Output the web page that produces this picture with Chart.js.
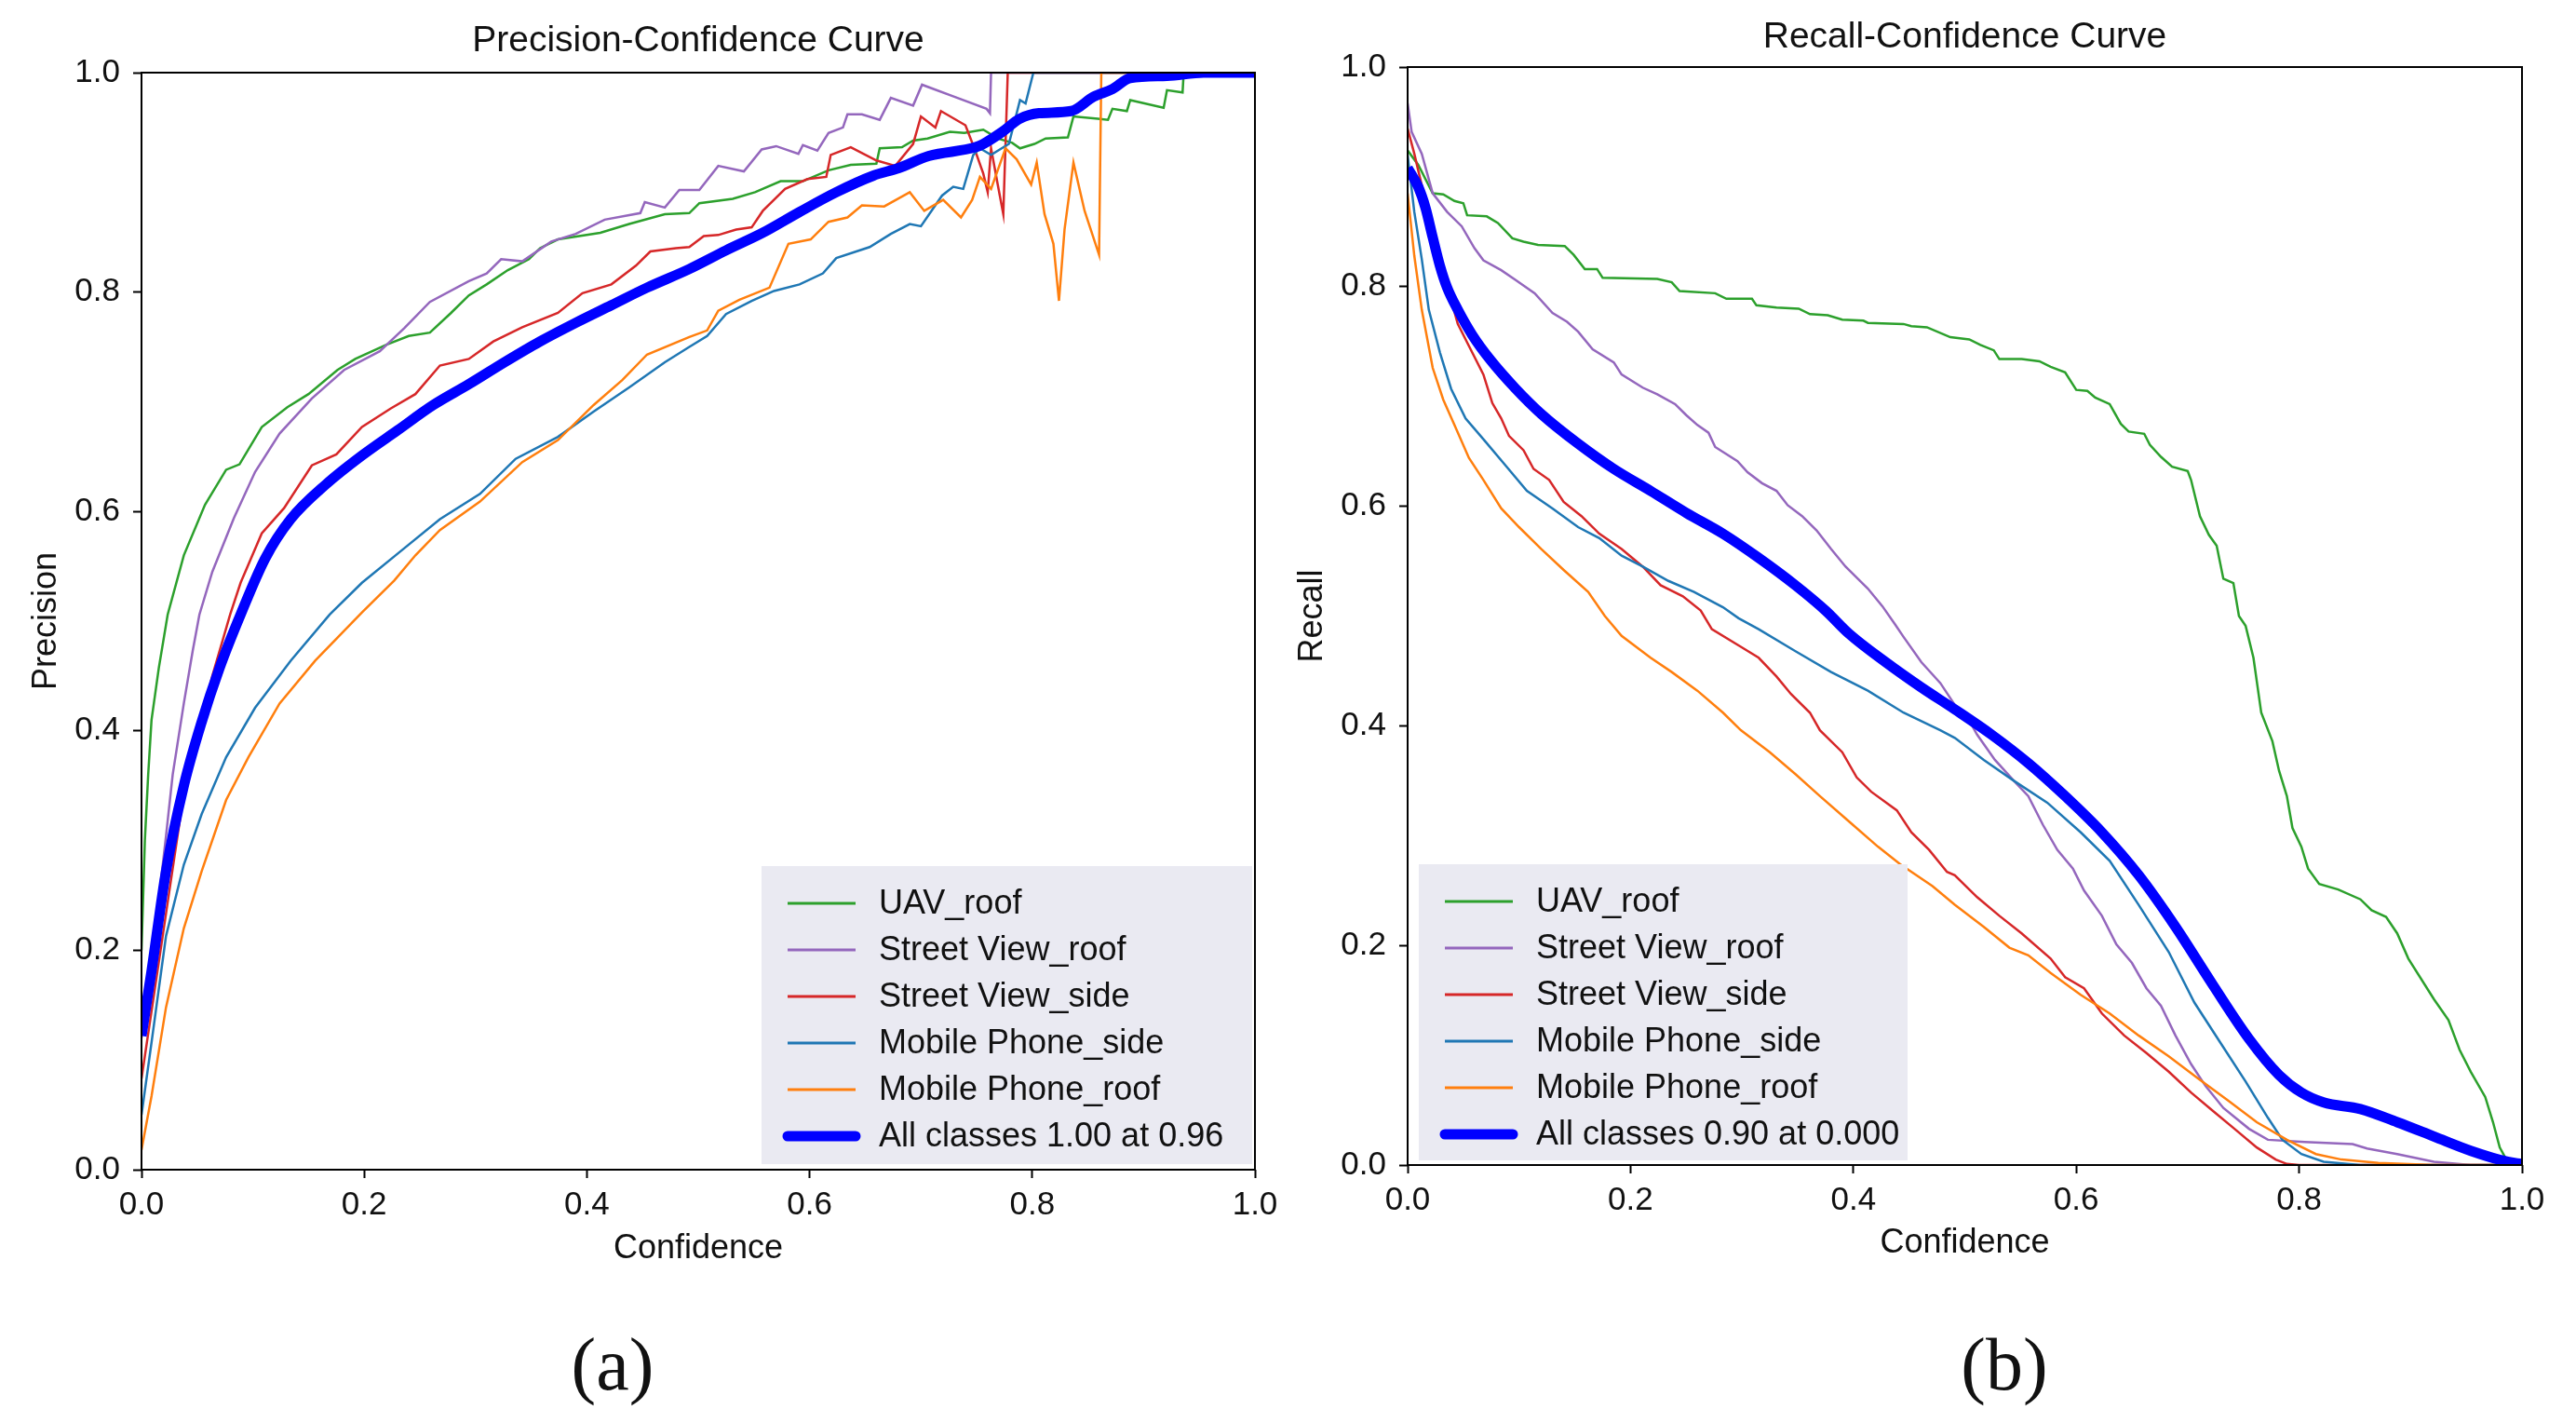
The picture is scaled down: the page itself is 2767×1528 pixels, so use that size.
<!DOCTYPE html>
<html>
<head>
<meta charset="utf-8">
<script src="https://cdn.jsdelivr.net/npm/chart.js@4.4.1/dist/chart.umd.min.js"></script>
<style>
  body { margin: 0; background: #fff; }
  #page { position: relative; width: 2767px; height: 1528px; overflow: hidden; }
  .box { position: absolute; top: 0; height: 1400px; }
  .cap { position: absolute; top: 1465px; transform: translate(-50%, -50%);
         font-family: "Liberation Serif", "Times New Roman", serif; font-size: 80px; line-height: 1; color: #111; }
</style>
</head>
<body>
<div id="page">
  <div class="box" style="left:0;width:1383px"><canvas id="pcChart"></canvas></div>
  <div class="box" style="left:1383px;width:1384px"><canvas id="rcChart"></canvas></div>
  <div class="cap" style="left:658px">(a)</div>
  <div class="cap" style="left:2153px">(b)</div>
</div>
<script>
/* labels */
const classNames = ['UAV_roof', 'Street View_roof', 'Street View_side', 'Mobile Phone_side', 'Mobile Phone_roof'];
const pcAllLabel = 'All classes 1.00 at 0.96';
const rcAllLabel = 'All classes 0.90 at 0.000';
const tickLabels = ['0.0', '0.2', '0.4', '0.6', '0.8', '1.0'];

/* Precision-Confidence, [confidence, precision] */
const pcUavRoof = [[0,0.20],[0.003,0.30],[0.006,0.36],[0.009,0.41],[0.0155,0.457],[0.0235,0.506],[0.038,0.56],[0.057,0.606],[0.076,0.638],[0.088,0.643],[0.108,0.677],[0.131,0.695],[0.150,0.707],[0.176,0.729],[0.192,0.739],[0.220,0.752],[0.240,0.760],[0.259,0.763],[0.278,0.781],[0.294,0.797],[0.310,0.807],[0.329,0.820],[0.348,0.830],[0.358,0.840],[0.374,0.848],[0.412,0.854],[0.438,0.862],[0.470,0.871],[0.492,0.872],[0.501,0.881],[0.531,0.885],[0.551,0.891],[0.574,0.901],[0.594,0.901],[0.617,0.911],[0.637,0.916],[0.660,0.917],[0.663,0.931],[0.683,0.932],[0.693,0.938],[0.706,0.940],[0.726,0.946],[0.739,0.945],[0.756,0.948],[0.769,0.940],[0.782,0.936],[0.789,0.931],[0.802,0.935],[0.812,0.940],[0.832,0.941],[0.837,0.960],[0.859,0.958],[0.868,0.957],[0.872,0.967],[0.885,0.965],[0.888,0.975],[0.918,0.968],[0.921,0.984],[0.935,0.982],[0.936,1.0],[1.0,1.0]];
const pcSvRoof = [[0,0.12],[0.009,0.181],[0.0155,0.246],[0.022,0.304],[0.028,0.36],[0.038,0.425],[0.046,0.473],[0.052,0.506],[0.0636,0.545],[0.083,0.594],[0.102,0.636],[0.124,0.671],[0.153,0.703],[0.182,0.729],[0.214,0.746],[0.236,0.767],[0.259,0.791],[0.294,0.810],[0.310,0.817],[0.323,0.830],[0.342,0.828],[0.368,0.846],[0.390,0.853],[0.416,0.866],[0.448,0.872],[0.452,0.882],[0.470,0.877],[0.483,0.893],[0.501,0.893],[0.518,0.915],[0.541,0.910],[0.557,0.930],[0.570,0.933],[0.590,0.926],[0.594,0.934],[0.607,0.929],[0.617,0.945],[0.630,0.950],[0.634,0.962],[0.647,0.962],[0.663,0.957],[0.673,0.977],[0.693,0.970],[0.701,0.989],[0.730,0.978],[0.759,0.967],[0.762,0.963],[0.763,1.0],[1.0,1.0]];
const pcSvSide = [[0,0.083],[0.019,0.213],[0.038,0.343],[0.0636,0.45],[0.0796,0.506],[0.089,0.535],[0.108,0.58],[0.128,0.603],[0.153,0.642],[0.175,0.652],[0.198,0.677],[0.224,0.694],[0.246,0.707],[0.268,0.733],[0.294,0.739],[0.316,0.755],[0.342,0.768],[0.374,0.781],[0.396,0.799],[0.422,0.807],[0.444,0.824],[0.457,0.837],[0.480,0.840],[0.492,0.841],[0.505,0.851],[0.518,0.852],[0.534,0.857],[0.548,0.859],[0.558,0.874],[0.578,0.894],[0.598,0.903],[0.615,0.905],[0.619,0.925],[0.637,0.932],[0.660,0.920],[0.677,0.915],[0.693,0.935],[0.700,0.960],[0.713,0.950],[0.718,0.965],[0.740,0.952],[0.748,0.931],[0.756,0.908],[0.760,0.891],[0.763,0.931],[0.769,0.898],[0.774,0.871],[0.778,1.0],[1.0,1.0]];
const pcMpSide = [[0,0.05],[0.009,0.116],[0.022,0.213],[0.038,0.278],[0.054,0.324],[0.076,0.376],[0.102,0.421],[0.134,0.464],[0.169,0.506],[0.198,0.535],[0.233,0.564],[0.268,0.593],[0.304,0.616],[0.336,0.648],[0.374,0.668],[0.406,0.691],[0.438,0.713],[0.470,0.736],[0.492,0.750],[0.508,0.760],[0.525,0.780],[0.548,0.792],[0.568,0.801],[0.591,0.807],[0.612,0.817],[0.624,0.831],[0.654,0.841],[0.673,0.853],[0.690,0.862],[0.700,0.860],[0.719,0.888],[0.729,0.896],[0.738,0.894],[0.747,0.925],[0.753,0.931],[0.763,0.925],[0.779,0.935],[0.789,0.975],[0.794,0.972],[0.801,1.0],[1.0,1.0]];
const pcMpRoof = [[0,0.018],[0.009,0.067],[0.022,0.148],[0.038,0.22],[0.054,0.272],[0.076,0.337],[0.096,0.376],[0.124,0.425],[0.156,0.464],[0.198,0.508],[0.227,0.537],[0.246,0.560],[0.268,0.583],[0.304,0.609],[0.342,0.645],[0.374,0.665],[0.406,0.697],[0.432,0.720],[0.454,0.743],[0.492,0.759],[0.508,0.765],[0.518,0.783],[0.537,0.793],[0.564,0.804],[0.581,0.844],[0.601,0.848],[0.617,0.864],[0.634,0.868],[0.647,0.879],[0.667,0.878],[0.690,0.891],[0.703,0.874],[0.720,0.884],[0.736,0.868],[0.746,0.884],[0.753,0.905],[0.763,0.894],[0.776,0.931],[0.786,0.921],[0.799,0.898],[0.804,0.918],[0.811,0.871],[0.819,0.844],[0.824,0.792],[0.829,0.857],[0.837,0.918],[0.847,0.874],[0.860,0.834],[0.862,1.0],[1.0,1.0]];
const pcAll = [[0,0.122],[0.009,0.181],[0.022,0.272],[0.038,0.35],[0.054,0.408],[0.070,0.457],[0.089,0.506],[0.111,0.557],[0.134,0.593],[0.166,0.625],[0.198,0.651],[0.230,0.674],[0.262,0.697],[0.294,0.716],[0.326,0.736],[0.358,0.755],[0.390,0.772],[0.422,0.788],[0.454,0.804],[0.492,0.821],[0.525,0.838],[0.558,0.854],[0.591,0.873],[0.624,0.891],[0.657,0.906],[0.680,0.913],[0.707,0.924],[0.749,0.932],[0.756,0.935],[0.773,0.946],[0.789,0.958],[0.806,0.963],[0.835,0.965],[0.855,0.978],[0.872,0.985],[0.888,0.995],[0.921,0.997],[0.954,1.0],[1.0,1.0]];

/* Recall-Confidence, [confidence, recall] */
const rcUavRoof = [[0,0.924],[0.0095,0.911],[0.0225,0.885],[0.032,0.884],[0.042,0.878],[0.050,0.876],[0.0534,0.865],[0.071,0.864],[0.081,0.858],[0.094,0.844],[0.104,0.841],[0.117,0.838],[0.141,0.837],[0.149,0.829],[0.159,0.816],[0.170,0.816],[0.175,0.808],[0.224,0.807],[0.237,0.804],[0.244,0.796],[0.276,0.794],[0.286,0.789],[0.309,0.789],[0.313,0.783],[0.331,0.781],[0.351,0.780],[0.361,0.775],[0.377,0.774],[0.390,0.770],[0.409,0.769],[0.413,0.767],[0.445,0.766],[0.452,0.764],[0.466,0.763],[0.487,0.754],[0.504,0.752],[0.514,0.747],[0.526,0.742],[0.531,0.734],[0.551,0.734],[0.567,0.732],[0.577,0.727],[0.590,0.722],[0.600,0.706],[0.610,0.705],[0.617,0.699],[0.630,0.693],[0.640,0.675],[0.647,0.668],[0.661,0.666],[0.666,0.656],[0.676,0.645],[0.686,0.636],[0.700,0.632],[0.703,0.624],[0.711,0.591],[0.719,0.574],[0.726,0.564],[0.732,0.534],[0.741,0.530],[0.746,0.500],[0.752,0.491],[0.759,0.462],[0.766,0.412],[0.776,0.386],[0.782,0.359],[0.789,0.336],[0.794,0.307],[0.802,0.290],[0.808,0.270],[0.818,0.256],[0.835,0.251],[0.855,0.242],[0.865,0.232],[0.878,0.226],[0.888,0.211],[0.898,0.188],[0.921,0.151],[0.934,0.132],[0.944,0.105],[0.954,0.085],[0.967,0.062],[0.974,0.039],[0.980,0.016],[0.987,0.003],[1.0,0]];
const rcSvRoof = [[0,0.967],[0.0036,0.941],[0.0127,0.921],[0.0225,0.885],[0.0355,0.868],[0.0485,0.855],[0.060,0.835],[0.068,0.824],[0.084,0.815],[0.097,0.806],[0.114,0.794],[0.130,0.776],[0.143,0.768],[0.153,0.759],[0.166,0.743],[0.185,0.731],[0.192,0.720],[0.211,0.708],[0.224,0.702],[0.240,0.693],[0.250,0.683],[0.260,0.674],[0.270,0.667],[0.276,0.654],[0.296,0.641],[0.305,0.631],[0.318,0.621],[0.331,0.614],[0.341,0.601],[0.354,0.591],[0.367,0.578],[0.380,0.561],[0.393,0.545],[0.413,0.525],[0.426,0.509],[0.437,0.493],[0.445,0.481],[0.461,0.458],[0.478,0.439],[0.491,0.419],[0.500,0.412],[0.511,0.392],[0.527,0.369],[0.544,0.350],[0.557,0.336],[0.570,0.310],[0.583,0.287],[0.597,0.270],[0.607,0.250],[0.623,0.227],[0.636,0.201],[0.650,0.184],[0.663,0.161],[0.676,0.145],[0.689,0.118],[0.703,0.092],[0.716,0.072],[0.732,0.052],[0.755,0.033],[0.772,0.023],[0.805,0.021],[0.848,0.019],[0.861,0.015],[0.888,0.010],[0.921,0.003],[0.954,0],[1.0,0]];
const rcSvSide = [[0,0.944],[0.006,0.921],[0.016,0.878],[0.026,0.832],[0.036,0.799],[0.045,0.766],[0.055,0.746],[0.068,0.720],[0.076,0.694],[0.084,0.680],[0.091,0.664],[0.104,0.651],[0.113,0.634],[0.127,0.624],[0.140,0.604],[0.156,0.591],[0.172,0.575],[0.192,0.561],[0.211,0.545],[0.227,0.528],[0.247,0.518],[0.263,0.505],[0.273,0.488],[0.299,0.472],[0.315,0.462],[0.331,0.445],[0.344,0.429],[0.361,0.412],[0.370,0.396],[0.390,0.376],[0.403,0.353],[0.416,0.340],[0.439,0.323],[0.452,0.303],[0.468,0.287],[0.484,0.267],[0.491,0.264],[0.511,0.244],[0.531,0.227],[0.551,0.211],[0.577,0.188],[0.590,0.171],[0.607,0.161],[0.623,0.138],[0.643,0.118],[0.663,0.102],[0.683,0.085],[0.703,0.066],[0.723,0.049],[0.742,0.033],[0.762,0.016],[0.779,0.005],[0.789,0.001],[0.800,0],[1.0,0]];
const rcMpSide = [[0,0.92],[0.006,0.868],[0.0127,0.825],[0.019,0.779],[0.029,0.740],[0.039,0.707],[0.052,0.680],[0.068,0.661],[0.088,0.637],[0.107,0.614],[0.130,0.598],[0.153,0.581],[0.172,0.571],[0.192,0.555],[0.211,0.545],[0.234,0.532],[0.257,0.522],[0.283,0.508],[0.297,0.498],[0.315,0.488],[0.348,0.468],[0.380,0.449],[0.413,0.432],[0.445,0.412],[0.478,0.396],[0.491,0.389],[0.517,0.369],[0.544,0.350],[0.574,0.330],[0.604,0.303],[0.630,0.277],[0.656,0.237],[0.683,0.194],[0.706,0.148],[0.729,0.112],[0.752,0.076],[0.772,0.043],[0.785,0.023],[0.802,0.010],[0.822,0.003],[0.855,0],[1.0,0]];
const rcMpRoof = [[0,0.885],[0.006,0.828],[0.0127,0.779],[0.0225,0.726],[0.032,0.697],[0.042,0.674],[0.055,0.644],[0.068,0.624],[0.084,0.598],[0.100,0.581],[0.120,0.561],[0.140,0.542],[0.162,0.522],[0.177,0.500],[0.192,0.482],[0.218,0.462],[0.237,0.449],[0.260,0.432],[0.283,0.412],[0.299,0.396],[0.325,0.376],[0.348,0.356],[0.370,0.336],[0.396,0.313],[0.422,0.290],[0.442,0.274],[0.471,0.254],[0.491,0.237],[0.517,0.217],[0.540,0.198],[0.557,0.191],[0.577,0.175],[0.604,0.155],[0.630,0.138],[0.656,0.118],[0.683,0.099],[0.709,0.079],[0.736,0.059],[0.762,0.039],[0.789,0.023],[0.815,0.010],[0.838,0.005],[0.871,0.002],[0.921,0],[1.0,0]];
const rcAll = [[0,0.908],[0.0095,0.891],[0.016,0.872],[0.0225,0.845],[0.029,0.819],[0.0355,0.799],[0.045,0.779],[0.058,0.756],[0.0745,0.733],[0.097,0.707],[0.120,0.684],[0.153,0.657],[0.185,0.634],[0.218,0.614],[0.250,0.594],[0.283,0.575],[0.315,0.553],[0.348,0.528],[0.375,0.505],[0.396,0.484],[0.429,0.458],[0.461,0.435],[0.491,0.415],[0.524,0.392],[0.557,0.366],[0.590,0.336],[0.623,0.303],[0.656,0.264],[0.689,0.217],[0.722,0.165],[0.755,0.115],[0.782,0.082],[0.802,0.066],[0.822,0.057],[0.855,0.051],[0.888,0.039],[0.921,0.026],[0.954,0.013],[0.987,0.003],[1.0,0.001]];

const classColors = ['#2ca02c', '#9467bd', '#d62728', '#1f77b4', '#ff7f0e'];
const allColor = '#0000ff';
const FONT = '"Liberation Sans", Arial, sans-serif';

const toXY = arr => arr.map(([x, y]) => ({ x, y }));

function makeSets(series, allSeries, allLabel) {
  const sets = series.map((s, i) => ({
    label: classNames[i], data: toXY(s), borderColor: classColors[i],
    borderWidth: 2.5, order: 6 - i
  }));
  sets.push({
    label: allLabel, data: toXY(allSeries), borderColor: allColor,
    borderWidth: 11, order: 0, cubicInterpolationMode: 'monotone'
  });
  return sets;
}

/* black frame round the plot area */
const framePlugin = {
  id: 'frame',
  afterDraw(chart) {
    const { ctx, chartArea: a } = chart;
    ctx.save();
    ctx.strokeStyle = '#000';
    ctx.lineWidth = 2;
    ctx.strokeRect(a.left, a.top, a.right - a.left, a.bottom - a.top);
    ctx.restore();
  }
};

/* legend in a grey box inside the plot, like matplotlib */
const boxLegend = {
  id: 'boxLegend',
  afterDatasetsDraw(chart, args, o) {
    const { ctx, chartArea: a } = chart;
    const left = o.side === 'right' ? a.right - o.inset - o.width : a.left + o.inset;
    const top = a.bottom - o.bottomInset - o.height;
    ctx.save();
    ctx.fillStyle = '#eaeaf2';
    ctx.fillRect(left, top, o.width, o.height);
    ctx.font = '36px ' + FONT;
    ctx.textBaseline = 'middle';
    chart.data.datasets.forEach((ds, i) => {
      const y = top + 40 + i * 50;
      ctx.beginPath();
      ctx.strokeStyle = ds.borderColor;
      ctx.lineWidth = ds.borderWidth > 5 ? 11 : 3;
      ctx.lineCap = ds.borderWidth > 5 ? 'round' : 'butt';
      ctx.moveTo(left + 28, y);
      ctx.lineTo(left + 101, y);
      ctx.stroke();
      ctx.fillStyle = '#111';
      ctx.fillText(ds.label, left + 126, y + 1);
    });
    ctx.restore();
  }
};

function makeOptions(cfg) {
  return {
    responsive: true,
    maintainAspectRatio: false,
    animation: false,
    events: [],
    layout: { padding: { left: cfg.padLeft, right: cfg.padRight, top: 0, bottom: cfg.padBottom } },
    elements: { point: { radius: 0 }, line: { tension: 0, fill: false } },
    scales: {
      x: {
        type: 'linear', min: 0, max: 1,
        afterFit: s => { s.height = cfg.xHeight; },
        ticks: { stepSize: 0.2, padding: 8, color: '#111', font: { size: 35, family: FONT },
                 callback: v => tickLabels[Math.round(v / 0.2)] },
        grid: { drawOnChartArea: false, drawTicks: true, tickLength: 9, tickColor: '#000', tickWidth: 2 },
        border: { display: false },
        title: { display: true, text: 'Confidence', color: '#111', padding: 0, font: { size: 36, family: FONT } }
      },
      y: {
        type: 'linear', min: 0, max: 1,
        afterFit: s => { s.width = cfg.yWidth; },
        ticks: { stepSize: 0.2, padding: 14, color: '#111', font: { size: 35, family: FONT },
                 callback: v => tickLabels[Math.round(v / 0.2)] },
        grid: { drawOnChartArea: false, drawTicks: true, tickLength: 9, tickColor: '#000', tickWidth: 2 },
        border: { display: false },
        title: { display: true, text: cfg.yTitle, color: '#111', padding: 0, font: { size: 36, family: FONT } }
      }
    },
    plugins: {
      legend: { display: false },
      tooltip: { enabled: false },
      title: {
        display: true, text: cfg.title, fullSize: false, color: '#111',
        font: { size: 39, weight: 'normal', family: FONT },
        padding: { top: cfg.titleTop, bottom: cfg.titleBottom }
      },
      boxLegend: cfg.legend
    }
  };
}

/* Precision-Confidence Curve */
new Chart(document.getElementById('pcChart'), {
  type: 'line',
  data: { datasets: makeSets([pcUavRoof, pcSvRoof, pcSvSide, pcMpSide, pcMpRoof], pcAll, pcAllLabel) },
  options: makeOptions({
    title: 'Precision-Confidence Curve', yTitle: 'Precision',
    padLeft: 28, padRight: 35, padBottom: 37.4, xHeight: 106.6, yWidth: 124,
    titleTop: 21, titleBottom: 10.2,
    legend: { side: 'right', inset: 3, bottomInset: 6, width: 527, height: 320 }
  }),
  plugins: [boxLegend, framePlugin]
});

/* Recall-Confidence Curve */
new Chart(document.getElementById('rcChart'), {
  type: 'line',
  data: { datasets: makeSets([rcUavRoof, rcSvRoof, rcSvSide, rcMpSide, rcMpRoof], rcAll, rcAllLabel) },
  options: makeOptions({
    title: 'Recall-Confidence Curve', yTitle: 'Recall',
    padLeft: 5.4, padRight: 58, padBottom: 43.4, xHeight: 105.6, yWidth: 123.6,
    titleTop: 17, titleBottom: 8.2,
    legend: { side: 'left', inset: 12, bottomInset: 5, width: 525, height: 318 }
  }),
  plugins: [boxLegend, framePlugin]
});
</script>
</body>
</html>
